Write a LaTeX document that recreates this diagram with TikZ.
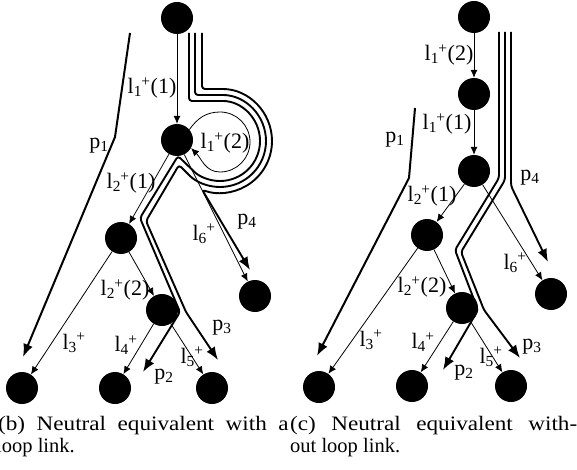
\documentclass[tikz,border=0pt]{standalone}
\usepackage{fontspec}
\setmainfont{Liberation Serif}
\usetikzlibrary{arrows.meta}
\newcommand\lsp[2]{l\textsubscript{#1}\kern-0.5pt\textsuperscript{+}#2}
\newcommand\pp[1]{p\textsubscript{#1}}
\begin{document}
\begin{tikzpicture}[x=1pt,y=1pt,
  dot/.style={circle, fill=black, minimum size=32pt, inner sep=0pt},
  link/.style={line width=0.8pt, -{Latex[length=8pt,width=7pt]}},
  pth/.style={line width=2pt, -{Latex[length=13pt,width=10pt]}},
  bundlearr/.style={line width=1.9pt, rounded corners=3pt, -{Latex[length=13pt,width=10pt]}},
  lab/.style={font=\fontsize{22}{26}\selectfont, inner sep=0pt},
  captext/.style={font=\fontsize{20.5}{24}\selectfont, inner sep=0pt, anchor=base west}]
\useasboundingbox (0,0) rectangle (577,-470);
% ---------- panel (b) ----------
\node[dot] (bR) at (177,-18) {};
\node[dot] (b2) at (177,-140) {};
\node[dot] (b3) at (121,-238) {};
\node[dot] (b4) at (162,-310) {};
\node[dot] (b6) at (255,-296) {};
\node[dot] (bL1) at (22,-388) {};
\node[dot] (bL2) at (115,-388) {};
\node[dot] (bL3) at (212,-388) {};
\draw[link] (bR) -- (b2);
\draw[link] (b2) -- (b3);
\draw[link] (b3) -- (bL1);
\draw[link] (b3) -- (b4);
\draw[link] (b4) -- (bL2);
\draw[link] (b4) -- (bL3);
\draw[link] (b2) -- (b6);
\draw[link] (b2.40) to[out=55,in=180] (220,-112) arc[start angle=90,end angle=-90,radius=30] to[out=180,in=-45] (b2.-30);
% p1
\coordinate (bp1s) at (130,-33);
\coordinate (bp1e) at (23,-357);
\draw[pth] (bp1s) -- (115,-137) -- (bp1e);
% bundle
\coordinate (bIs) at (189,-33);
\coordinate (bMs) at (195,-33);
\coordinate (bOs) at (202,-33);
\coordinate (bp2e) at (143,-372);
\coordinate (bp3e) at (218,-360);
\coordinate (bp4e) at (250,-270);
\draw[bundlearr] (bIs) -- (189,-101) -- (220,-101) arc[start angle=90,end angle=-135,radius=40] -- (178,-156) -- (140,-218) -- (180,-312) -- (bp2e);
\draw[bundlearr] (bMs) -- (195,-95) -- (220,-95) arc[start angle=90,end angle=-135,radius=46] -- (179,-165) -- (146,-221) -- (186,-312) -- (bp3e);
\draw[bundlearr] (bOs) -- (202,-89) -- (220,-89) arc[start angle=90,end angle=-110,radius=52] -- (bp4e);
% labels (b)
\node[lab] at (152,-88) {\lsp{1}{(1)}};
\node[lab] at (225,-143) {\lsp{1}{(2)}};
\node[lab] at (131,-183) {\lsp{2}{(1)}};
\node[lab] at (204,-234) {\lsp{6}{}};
\node[lab] at (125,-290) {\lsp{2}{(2)}};
\node[lab] at (74,-343) {\lsp{3}{}};
\node[lab] at (126,-345) {\lsp{4}{}};
\node[lab] at (192,-357) {\lsp{5}{}};
\node[lab] at (99,-146) {\pp{1}};
\node[lab] at (247,-222) {\pp{4}};
\node[lab] at (222,-328) {\pp{3}};
\node[lab] at (164,-377) {\pp{2}};
% ---------- panel (c) ----------
\node[dot] (cR) at (474,-17) {};
\node[dot] (c2) at (474,-94) {};
\node[dot] (c3) at (474,-171) {};
\node[dot] (cL) at (427,-235) {};
\node[dot] (cM) at (462,-308) {};
\node[dot] (c6) at (551,-294) {};
\node[dot] (cL1) at (319,-387) {};
\node[dot] (cL2) at (412,-386) {};
\node[dot] (cL3) at (511,-386) {};
\draw[link] (cR) -- (c2);
\draw[link] (c2) -- (c3);
\draw[link] (c3) -- (cL);
\draw[link] (c3) -- (c6);
\draw[link] (cL) -- (cM);
\draw[link] (cL) -- (cL1);
\draw[link] (cM) -- (cL2);
\draw[link] (cM) -- (cL3);
\coordinate (cp1s) at (415,-108);
\coordinate (cp1e) at (317,-356);
\draw[pth] (cp1s) -- (409,-178) -- (cp1e);
\coordinate (cLs) at (499,-32);
\coordinate (cMs) at (505,-32);
\coordinate (cRs) at (511,-32);
\coordinate (cp2e) at (443,-370);
\coordinate (cp3e) at (520,-358);
\coordinate (cp4e) at (548,-262);
\draw[bundlearr] (cLs) -- (499,-178) -- (455,-250) -- (478,-310) -- (cp2e);
\draw[bundlearr] (cMs) -- (505,-180) -- (461,-252) -- (484,-310) -- (cp3e);
\draw[bundlearr] (cRs) -- (511,-186) -- (cp4e);
\node[lab] at (449,-55) {\lsp{1}{(2)}};
\node[lab] at (447,-124) {\lsp{1}{(1)}};
\node[lab] at (432,-196) {\lsp{2}{(1)}};
\node[lab] at (515,-263) {\lsp{6}{}};
\node[lab] at (422,-287) {\lsp{2}{(2)}};
\node[lab] at (371,-340) {\lsp{3}{}};
\node[lab] at (423,-342) {\lsp{4}{}};
\node[lab] at (491,-357) {\lsp{5}{}};
\node[lab] at (395,-140) {\pp{1}};
\node[lab] at (530,-178) {\pp{4}};
\node[lab] at (464,-373) {\pp{2}};
\node[lab] at (532,-347) {\pp{3}};
% captions
\node[captext] (capb1) at (-2,-430) {\scalebox{1.13}[1]{\makebox[257pt][s]{(b) Neutral equivalent with a}}};
\node[captext] (capb2) at (-4,-452) {loop link.};
\node[captext] (capc1) at (290,-430) {\scalebox{1.13}[1]{\makebox[254pt][s]{(c) Neutral equivalent with-}}};
\node[captext] (capc2) at (290,-452) {out loop link.};
\end{tikzpicture}
\end{document}
